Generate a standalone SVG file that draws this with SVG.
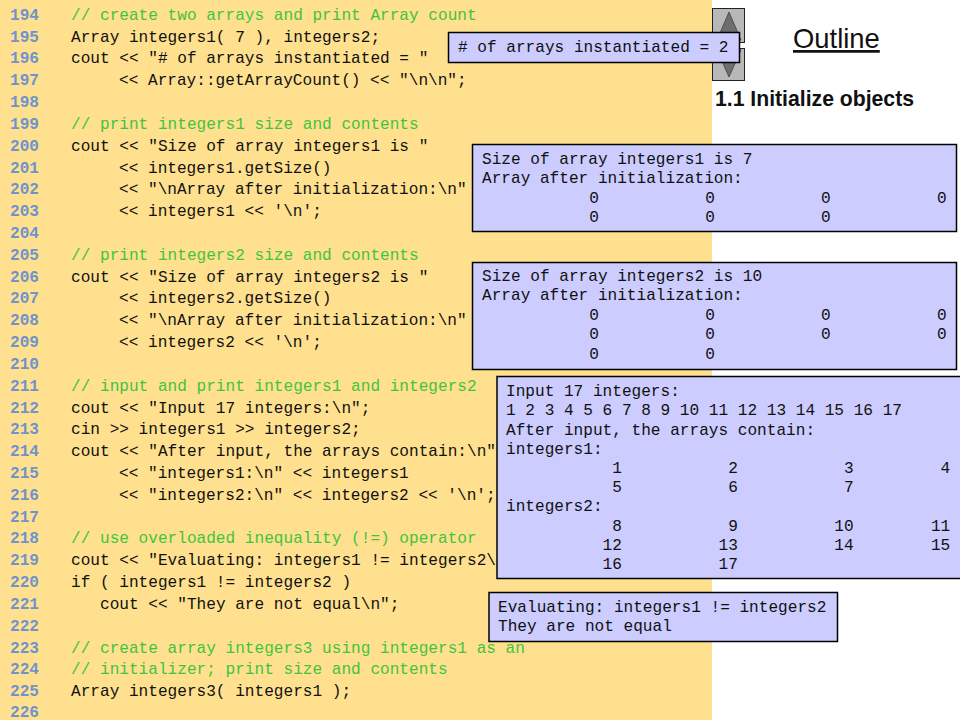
<svg xmlns="http://www.w3.org/2000/svg" width="960" height="720" viewBox="0 0 960 720">
<style>
text{font-family:"Liberation Mono","DejaVu Sans Mono",monospace;font-size:16.1px;white-space:pre;fill:#111}
.n{fill:#6f93cc;font-weight:bold}
.c{fill:#3fc43f}
.box{fill:#ccccff;stroke:#000;stroke-width:1.5}
.nav{fill:#b8b8b8;stroke:#222;stroke-width:1}
.tri{fill:#6e6e6e;stroke:#333;stroke-width:.7}
.shift{transform:translate(0,.7px)}
</style>
<rect width="712" height="720" fill="#ffe08f"/>
<g id="line-numbers" class="shift">
<text class="n" x="10" y="19">194</text><text class="n" x="10" y="41">195</text><text class="n" x="10" y="62">196</text><text class="n" x="10" y="84">197</text><text class="n" x="10" y="106">198</text><text class="n" x="10" y="128">199</text><text class="n" x="10" y="150">200</text><text class="n" x="10" y="172">201</text><text class="n" x="10" y="193">202</text><text class="n" x="10" y="215">203</text><text class="n" x="10" y="237">204</text><text class="n" x="10" y="259">205</text><text class="n" x="10" y="281">206</text><text class="n" x="10" y="302">207</text><text class="n" x="10" y="324">208</text><text class="n" x="10" y="346">209</text><text class="n" x="10" y="368">210</text><text class="n" x="10" y="390">211</text><text class="n" x="10" y="412">212</text><text class="n" x="10" y="433">213</text><text class="n" x="10" y="455">214</text><text class="n" x="10" y="477">215</text><text class="n" x="10" y="499">216</text><text class="n" x="10" y="521">217</text><text class="n" x="10" y="542">218</text><text class="n" x="10" y="564">219</text><text class="n" x="10" y="586">220</text><text class="n" x="10" y="608">221</text><text class="n" x="10" y="630">222</text><text class="n" x="10" y="652">223</text><text class="n" x="10" y="673">224</text><text class="n" x="10" y="695">225</text><text class="n" x="10" y="716.3">226</text>
</g>
<g id="code" class="shift">
<text class="c" x="71" y="19">// create two arrays and print Array count</text>
<text x="71" y="41">Array integers1( 7 ), integers2;</text>
<text x="71" y="62">cout &lt;&lt; "# of arrays instantiated = "</text>
<text x="119" y="84">&lt;&lt; Array::getArrayCount() &lt;&lt; "\n\n";</text>
<text class="c" x="71" y="128">// print integers1 size and contents</text>
<text x="71" y="150">cout &lt;&lt; "Size of array integers1 is "</text>
<text x="119" y="172">&lt;&lt; integers1.getSize()</text>
<text x="119" y="193">&lt;&lt; "\nArray after initialization:\n"</text>
<text x="119" y="215">&lt;&lt; integers1 &lt;&lt; '\n';</text>
<text class="c" x="71" y="259">// print integers2 size and contents</text>
<text x="71" y="281">cout &lt;&lt; "Size of array integers2 is "</text>
<text x="119" y="302">&lt;&lt; integers2.getSize()</text>
<text x="119" y="324">&lt;&lt; "\nArray after initialization:\n"</text>
<text x="119" y="346">&lt;&lt; integers2 &lt;&lt; '\n';</text>
<text class="c" x="71" y="390">// input and print integers1 and integers2</text>
<text x="71" y="412">cout &lt;&lt; "Input 17 integers:\n";</text>
<text x="71" y="433">cin &gt;&gt; integers1 &gt;&gt; integers2;</text>
<text x="71" y="455">cout &lt;&lt; "After input, the arrays contain:\n"</text>
<text x="119" y="477">&lt;&lt; "integers1:\n" &lt;&lt; integers1</text>
<text x="119" y="499">&lt;&lt; "integers2:\n" &lt;&lt; integers2 &lt;&lt; '\n';</text>
<text class="c" x="71" y="542">// use overloaded inequality (!=) operator</text>
<text x="71" y="564">cout &lt;&lt; "Evaluating: integers1 != integers2\</text>
<text x="71" y="586">if ( integers1 != integers2 )</text>
<text x="100" y="608">cout &lt;&lt; "They are not equal\n";</text>
<text class="c" x="71" y="652">// create array integers3 using integers1 as an</text>
<text class="c" x="71" y="673">// initializer; print size and contents</text>
<text x="71" y="695">Array integers3( integers1 );</text>
</g>
<g id="nav-up"><rect class="nav" x="712.5" y="8.5" width="32" height="34"/><polygon class="tri" points="729,12 741,40 717,40"/></g>
<g id="nav-down"><rect class="nav" x="712.5" y="48.5" width="32" height="32"/><polygon class="tri" points="729,77 741,50 717,50"/></g>
<g id="outline-title">
<text x="793" y="48" style="font-family:'Liberation Sans',Arial,sans-serif;font-size:27.4px;text-decoration:underline">Outline</text>
<text x="715" y="106" style="font-family:'Liberation Sans',Arial,sans-serif;font-size:21.2px;font-weight:bold">1.1 Initialize objects</text>
</g>
<g id="output-count"><rect class="box" x="448.5" y="32.5" width="291" height="30"/>
<text x="458" y="51.5"># of arrays instantiated = 2</text></g>
<g id="output-integers1"><rect class="box" x="472.5" y="144.5" width="484" height="87"/>
<g class="shift"><text x="482" y="163">Size of array integers1 is 7</text>
<text x="482" y="182">Array after initialization:</text>
<text x="483" y="202">           0           0           0           0</text>
<text x="483" y="221">           0           0           0</text></g></g>
<g id="output-integers2"><rect class="box" x="472.5" y="262.5" width="484" height="107"/>
<g class="shift"><text x="482" y="280">Size of array integers2 is 10</text>
<text x="482" y="299">Array after initialization:</text>
<text x="483" y="319">           0           0           0           0</text>
<text x="483" y="338">           0           0           0           0</text>
<text x="483" y="358">           0           0</text></g></g>
<g id="output-input"><rect class="box" x="497" y="376.5" width="465" height="202"/>
<g class="shift"><text x="506" y="395">Input 17 integers:</text>
<text x="506" y="414">1 2 3 4 5 6 7 8 9 10 11 12 13 14 15 16 17</text>
<text x="506" y="434">After input, the arrays contain:</text>
<text x="506" y="453">integers1:</text>
<text x="506" y="472">           1           2           3         4</text>
<text x="506" y="491">           5           6           7</text>
<text x="506" y="510">integers2:</text>
<text x="506" y="530">           8           9          10        11</text>
<text x="506" y="549">          12          13          14        15</text>
<text x="506" y="568">          16          17</text></g></g>
<g id="output-evaluating"><rect class="box" x="489" y="592.5" width="348.5" height="49"/>
<g class="shift"><text x="498" y="611">Evaluating: integers1 != integers2</text>
<text x="498" y="630">They are not equal</text></g></g>
</svg>
